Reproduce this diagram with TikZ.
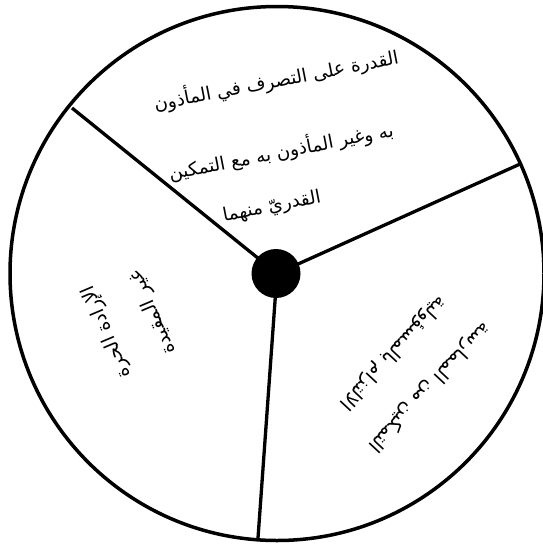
\documentclass[tikz,border=0pt]{standalone}
\usepackage{fontspec}
\newfontfamily\arabicfont[Script=Arabic]{DejaVu Sans}
\TeXXeTstate=1
\begin{document}
\begin{tikzpicture}[x=1pt,y=-1pt,
  rim/.style={circle, draw=black, line width=3.5pt, minimum size=534pt, inner sep=0pt},
  hub/.style={circle, fill=black, minimum size=49pt, inner sep=0pt},
  spoke/.style={draw=black, line width=3.3pt},
  label/.style={inner sep=0pt, align=center, text=black, font=\arabicfont\fontsize{18.5}{24}\selectfont},
  sidelabel/.style={inner sep=0pt, align=center, text=black, font=\arabicfont\fontsize{19}{50}\selectfont}]
\useasboundingbox (0,0) rectangle (543,547);
\node[rim] (wheel) at (277,273.5) {};
\coordinate (e1) at (72,108);
\coordinate (e2) at (521.7,163.3);
\coordinate (e3) at (258,538);
\draw[spoke] (wheel.center) -- (e1);
\draw[spoke] (wheel.center) -- (e2);
\draw[spoke] (wheel.center) -- (e3);
\node[hub] (centre) at (276,273.5) {};
\node[label, rotate=11] (top1) at (276,80)
  {\beginR القدرة على التصرف في المأذون\endR};
\node[label, rotate=11] (top2) at (281,151)
  {\beginR به وغير المأذون به مع التمكين\endR};
\node[label, rotate=11] (top3) at (272,207)
  {\beginR القدريّ منهما\endR};
\node[sidelabel, rotate=113] (left) at (130,322)
  {\beginR الإرادة الحرة\endR\\
   \beginR غير المقيدة\endR};
\node[sidelabel, rotate=-133] (right) at (411,370)
  {\beginR التمكين من الممارسة\endR\\
   \beginR الالتزام بالمسؤولية\endR};
\end{tikzpicture}
\end{document}
